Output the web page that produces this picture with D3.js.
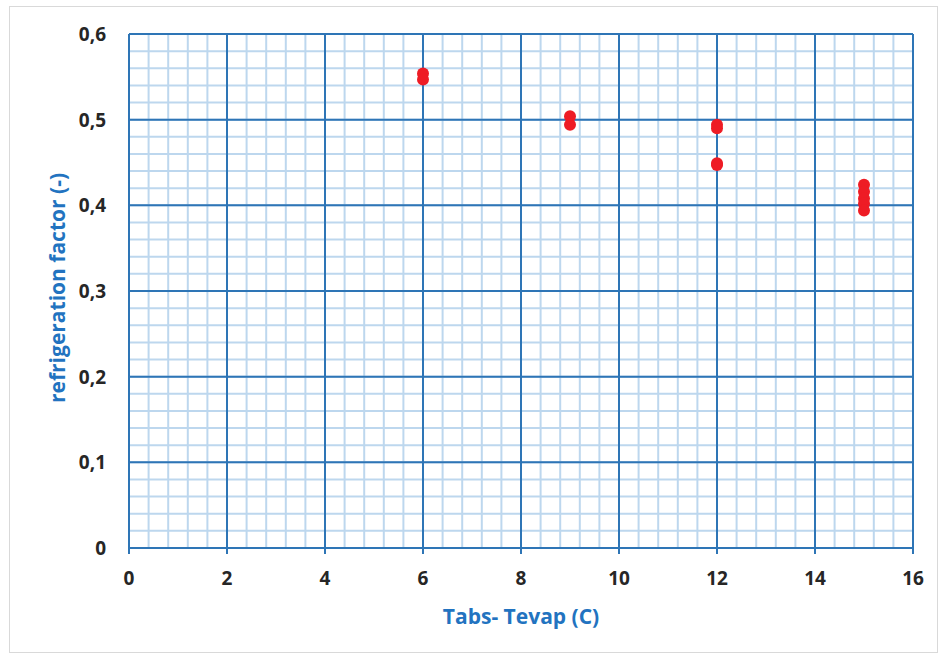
<!DOCTYPE html>
<html>
<head>
<meta charset="utf-8">
<title>refrigeration factor</title>
<script src="https://cdn.jsdelivr.net/npm/d3@7"></script>
<style>
  body { margin: 0; background: #fff; }
  text { font-family: "Open Sans", "Liberation Sans", sans-serif; font-weight: bold; }
</style>
</head>
<body>
<script>
var tempDiff = [6, 6, 9, 9, 12, 12, 12, 12, 15, 15, 15, 15, 15];
var refFactor = [0.554, 0.547, 0.504, 0.494, 0.494, 0.490, 0.449, 0.447, 0.424, 0.416, 0.408, 0.402, 0.394];
var xTicks = [0, 2, 4, 6, 8, 10, 12, 14, 16];
var yTicks = [0, 0.1, 0.2, 0.3, 0.4, 0.5, 0.6];
var yTickLabels = ["0", "0,1", "0,2", "0,3", "0,4", "0,5", "0,6"];

var width = 940, height = 656;
var margin = {top: 34, right: 27, bottom: 108, left: 129};

var svg = d3.select("body").append("svg")
  .attr("width", width)
  .attr("height", height);

// outer chart border
svg.append("rect")
  .attr("x", 9.5).attr("y", 6.5)
  .attr("width", 928).attr("height", 646)
  .attr("fill", "none")
  .attr("stroke", "#d9d9d9");

var x = d3.scaleLinear().domain([0, 16]).range([margin.left, width - margin.right]);
var y = d3.scaleLinear().domain([0, 0.6]).range([height - margin.bottom, margin.top]);

// minor grid
var g = svg.append("g");
g.selectAll(".minx").data(d3.range(0, 16.01, 0.4))
  .enter().append("line")
  .attr("x1", function(d) { return x(d); }).attr("x2", function(d) { return x(d); })
  .attr("y1", y(0)).attr("y2", y(0.6))
  .attr("stroke", "#bdd7ee").attr("stroke-width", 2);
g.selectAll(".miny").data(d3.range(0, 0.601, 0.02))
  .enter().append("line")
  .attr("y1", function(d) { return y(d); }).attr("y2", function(d) { return y(d); })
  .attr("x1", x(0)).attr("x2", x(16))
  .attr("stroke", "#bdd7ee").attr("stroke-width", 2);

// major grid
g.selectAll(".majx").data(xTicks)
  .enter().append("line")
  .attr("x1", function(d) { return x(d); }).attr("x2", function(d) { return x(d); })
  .attr("y1", y(0) + 6).attr("y2", y(0.6))
  .attr("stroke", "#2e75b6").attr("stroke-width", 2);
g.selectAll(".majy").data(yTicks)
  .enter().append("line")
  .attr("y1", function(d) { return y(d); }).attr("y2", function(d) { return y(d); })
  .attr("x1", x(0)).attr("x2", x(16))
  .attr("stroke", "#2e75b6").attr("stroke-width", 2);

// tick labels
svg.selectAll(".xl").data(xTicks)
  .enter().append("text")
  .attr("x", function(d) { return x(d); })
  .attr("y", y(0) + 37)
  .attr("text-anchor", "middle")
  .attr("font-size", 19)
  .attr("fill", "#262626")
  .text(function(d) { return d; });

svg.selectAll(".yl").data(yTicks)
  .enter().append("text")
  .attr("x", 106)
  .attr("y", function(d) { return y(d) + 7; })
  .attr("text-anchor", "end")
  .attr("font-size", 19)
  .attr("fill", "#262626")
  .text(function(d, i) { return yTickLabels[i]; });

// axis titles
svg.append("text")
  .attr("x", 521).attr("y", 624)
  .attr("text-anchor", "middle")
  .attr("font-size", 21)
  .attr("fill", "#2273c0")
  .text("Tabs- Tevap (C)");

svg.append("text")
  .attr("transform", "translate(65,288) rotate(-90)")
  .attr("text-anchor", "middle")
  .attr("font-size", 21)
  .attr("fill", "#2273c0")
  .text("refrigeration factor (-)");

// points
svg.selectAll(".pt").data(tempDiff)
  .enter().append("circle")
  .attr("cx", function(d) { return x(d); })
  .attr("cy", function(d, i) { return y(refFactor[i]); })
  .attr("r", 6)
  .attr("fill", "#ee1c25");
</script>
</body>
</html>
